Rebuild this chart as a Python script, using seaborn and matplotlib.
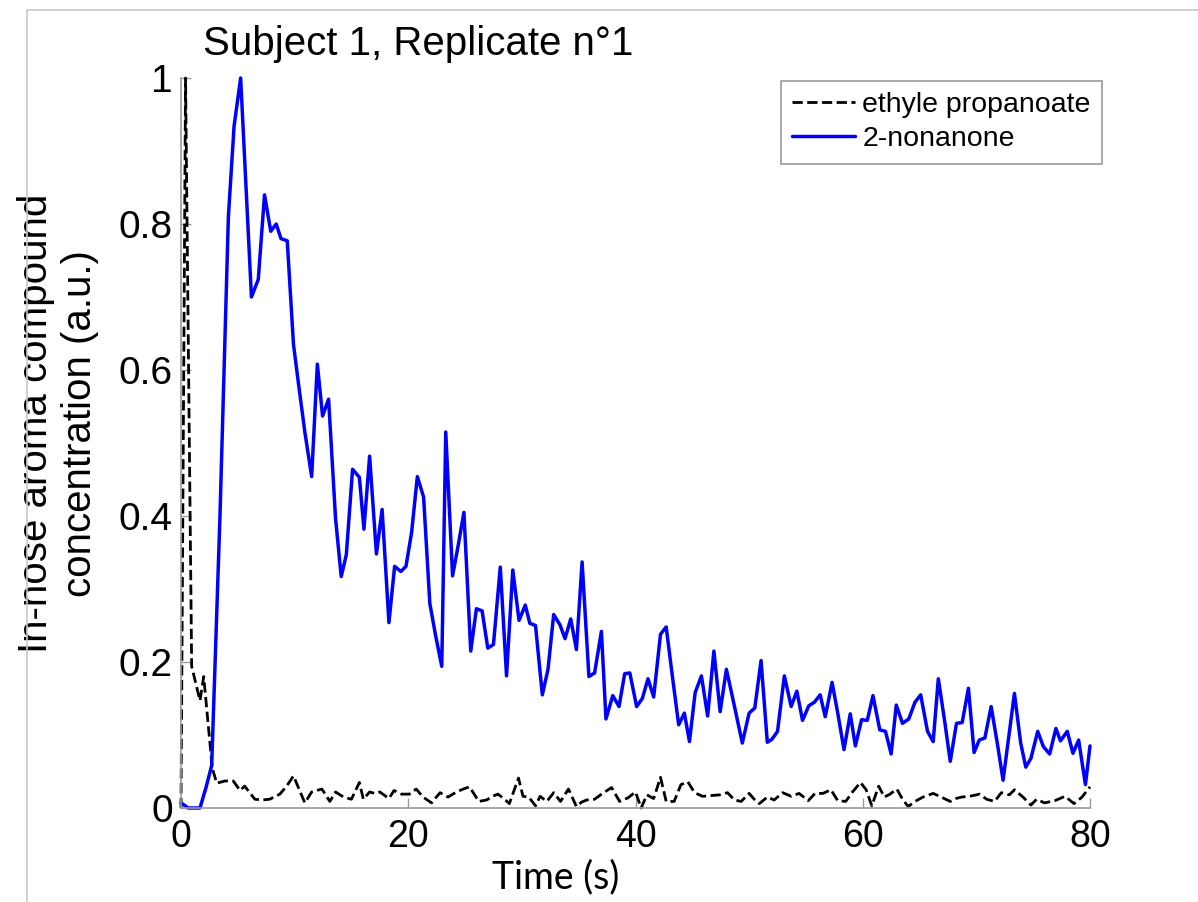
import matplotlib
matplotlib.use("Agg")
import matplotlib.pyplot as plt
from matplotlib.lines import Line2D
import seaborn as sns
import pandas as pd

# ---------------- data ----------------
blue_time = [0.0, 0.64, 1.67, 2.2, 2.7, 3.43, 4.17, 4.67, 5.25, 6.2, 6.8, 7.35, 7.9, 8.38, 8.8,
             9.35, 9.9, 10.35, 10.9, 11.5, 12.0, 12.46, 12.99, 13.6, 14.1, 14.55, 15.1, 15.7,
             16.1, 16.6, 17.2, 17.7, 18.3, 18.8, 19.35, 19.8, 20.3, 20.8, 21.35, 21.9, 22.4,
             22.95, 23.3, 23.9, 24.4, 24.9, 25.5, 26.0, 26.5, 27.0, 27.5, 28.1, 28.65, 29.2,
             29.75, 30.3, 30.7, 31.2, 31.8, 32.3, 32.8, 33.35, 33.8, 34.3, 34.8, 35.3, 35.9,
             36.4, 37.0, 37.4, 38.0, 38.55, 39.05, 39.5, 40.1, 40.6, 41.1, 41.6, 42.2, 42.7,
             43.25, 43.8, 44.3, 44.75, 45.25, 45.8, 46.35, 46.9, 47.45, 48.0, 48.7, 49.4, 50.0,
             50.5, 51.05, 51.6, 52.0, 52.5, 53.1, 53.7, 54.2, 54.7, 55.25, 55.75, 56.25, 56.7,
             57.3, 57.8, 58.35, 58.9, 59.35, 59.9, 60.4, 60.9, 61.5, 62.0, 62.5, 62.95, 63.5,
             64.05, 64.6, 65.1, 65.7, 66.2, 66.65, 67.2, 67.7, 68.25, 68.75, 69.3, 69.8, 70.25,
             70.75, 71.3, 71.85, 72.35, 72.85, 73.35, 73.9, 74.35, 74.8, 75.4, 75.9, 76.45,
             77.0, 77.4, 78.0, 78.5, 79.0, 79.6, 80.0]
blue_value = [0.007, 0.0, 0.0, 0.028, 0.058, 0.40, 0.81, 0.934, 1.0, 0.70, 0.724, 0.84, 0.79, 0.80,
              0.78, 0.777, 0.635, 0.58, 0.515, 0.454, 0.608, 0.537, 0.56, 0.397, 0.317, 0.347,
              0.464, 0.453, 0.382, 0.482, 0.348, 0.409, 0.254, 0.331, 0.324, 0.331, 0.378, 0.454,
              0.426, 0.28, 0.237, 0.194, 0.515, 0.318, 0.36, 0.405, 0.215, 0.273, 0.27, 0.219,
              0.224, 0.33, 0.181, 0.326, 0.257, 0.278, 0.253, 0.25, 0.155, 0.19, 0.265, 0.251,
              0.232, 0.259, 0.217, 0.337, 0.18, 0.185, 0.242, 0.122, 0.154, 0.139, 0.184, 0.185,
              0.139, 0.150, 0.177, 0.152, 0.238, 0.248, 0.18, 0.114, 0.130, 0.091, 0.158, 0.181,
              0.126, 0.215, 0.132, 0.19, 0.14, 0.089, 0.130, 0.137, 0.202, 0.090, 0.094, 0.105,
              0.181, 0.139, 0.160, 0.120, 0.140, 0.145, 0.155, 0.125, 0.172, 0.13, 0.080, 0.129,
              0.085, 0.121, 0.12, 0.154, 0.107, 0.105, 0.074, 0.141, 0.116, 0.122, 0.145, 0.155,
              0.105, 0.091, 0.177, 0.12, 0.064, 0.116, 0.117, 0.164, 0.076, 0.093, 0.096, 0.139,
              0.088, 0.038, 0.097, 0.157, 0.089, 0.056, 0.068, 0.105, 0.084, 0.074, 0.109, 0.092,
              0.105, 0.075, 0.093, 0.032, 0.085]

black_time = [0.0, 0.4, 0.94, 1.67, 2.0, 2.75, 3.14, 3.87, 4.6, 5.2, 5.6, 6.5, 7.15, 7.8, 8.7,
              9.3, 9.9, 10.9, 11.5, 11.95, 12.4, 13.1, 13.6, 14.3, 15.0, 15.7, 16.05, 16.6,
              17.05, 17.5, 18.3, 18.75, 19.4, 20.1, 20.7, 21.3, 22.05, 22.8, 23.5, 24.25, 24.85,
              25.4, 26.2, 26.9, 27.4, 27.9, 28.4, 28.9, 29.7, 30.1, 30.6, 31.2, 31.6, 32.2, 32.8,
              33.4, 34.1, 34.8, 35.25, 35.7, 36.4, 37.1, 37.9, 38.6, 39.35, 40.0, 40.5, 41.0,
              41.6, 42.2, 42.7, 43.4, 44.0, 44.6, 45.2, 45.9, 46.65, 47.4, 48.1, 48.7, 49.3,
              50.0, 50.45, 50.9, 51.6, 52.2, 52.95, 53.7, 54.4, 55.2, 55.8, 56.5, 57.2, 57.8,
              58.5, 59.1, 59.8, 60.3, 60.8, 61.4, 61.9, 62.4, 63.0, 63.5, 64.0, 64.6, 65.3,
              66.2, 66.9, 67.7, 68.2, 68.7, 69.4, 70.3, 70.9, 71.6, 72.2, 72.9, 73.35, 74.1,
              74.8, 75.3, 76.0, 76.9, 77.8, 78.6, 79.3, 80.0]
black_value = [0.0, 1.0, 0.194, 0.147, 0.18, 0.055, 0.034, 0.037, 0.037, 0.024, 0.030, 0.012,
               0.011, 0.012, 0.019, 0.03, 0.044, 0.007, 0.022, 0.024, 0.026, 0.009, 0.022, 0.015,
               0.012, 0.035, 0.012, 0.022, 0.02, 0.022, 0.013, 0.024, 0.019, 0.019, 0.026, 0.015,
               0.007, 0.021, 0.015, 0.022, 0.026, 0.029, 0.009, 0.011, 0.016, 0.019, 0.013, 0.006,
               0.041, 0.016, 0.015, 0.003, 0.016, 0.009, 0.021, 0.009, 0.026, 0.002, 0.008, 0.011,
               0.012, 0.02, 0.028, 0.009, 0.014, 0.022, 0.0, 0.018, 0.013, 0.042, 0.009, 0.009,
               0.032, 0.036, 0.021, 0.016, 0.017, 0.018, 0.021, 0.011, 0.009, 0.02, 0.012, 0.006,
               0.015, 0.011, 0.021, 0.016, 0.02, 0.01, 0.02, 0.02, 0.025, 0.01, 0.009, 0.022,
               0.035, 0.025, 0.003, 0.03, 0.015, 0.019, 0.026, 0.012, 0.002, 0.009, 0.015, 0.02,
               0.015, 0.009, 0.013, 0.015, 0.016, 0.019, 0.012, 0.009, 0.021, 0.018, 0.025, 0.015,
               0.004, 0.012, 0.007, 0.01, 0.016, 0.006, 0.015, 0.029]

series_names = ["ethyle propanoate", "2-nonanone"]
x_ticks = [0, 20, 40, 60, 80]
y_ticks = [0, 0.2, 0.4, 0.6, 0.8, 1]
y_tick_labels = ["0", "0.2", "0.4", "0.6", "0.8", "1"]
title_text = "Subject 1, Replicate n°1"
x_label = "Time (s)"
y_label = "In-nose aroma compound\nconcentration (a.u.)"

# ---------------- styling ----------------
sns.set_style("white")
plt.rcParams["font.family"] = ["Liberation Sans", "DejaVu Sans"]
plt.rcParams["text.color"] = "black"
plt.rcParams["axes.labelcolor"] = "black"
plt.rcParams["xtick.color"] = "black"
plt.rcParams["ytick.color"] = "black"

W, H = 1198, 902
fig = plt.figure(figsize=(W / 100, H / 100), dpi=100)
ax = fig.add_axes([181 / W, 1 - 808 / H, (1090 - 181) / W, (808 - 78) / H])

df_black = pd.DataFrame({"t": black_time, "v": black_value})
df_blue = pd.DataFrame({"t": blue_time, "v": blue_value})

sns.lineplot(data=df_black, x="t", y="v", ax=ax, color="black", linestyle="--",
             linewidth=2.0, sort=False, label=series_names[0], clip_on=False)
sns.lineplot(data=df_blue, x="t", y="v", ax=ax, color="#0000ff", linestyle="-",
             linewidth=2.5, sort=False, label=series_names[1], clip_on=False)

ax.set_xlim(0, 80)
ax.set_ylim(0, 1)
ax.set_xticks(x_ticks)
ax.set_yticks(y_ticks)
ax.set_yticklabels(y_tick_labels)

spine_col = "#9a9a9a"
for s in ["top", "right"]:
    ax.spines[s].set_visible(False)
for s in ["left", "bottom"]:
    ax.spines[s].set_color(spine_col)
    ax.spines[s].set_linewidth(1.2)

ax.tick_params(axis="both", which="major", bottom=True, left=True, direction="in",
               length=7, width=1.0, color=spine_col, labelcolor="black")
ax.tick_params(axis="x", labelsize=27, pad=8)
ax.tick_params(axis="y", labelsize=28, pad=6)

ax.set_xlabel(x_label, fontsize=27, family=["Lato", "DejaVu Sans"], color="black")
ax.xaxis.set_label_coords((556 - 181) / 909, -0.07)
ax.set_ylabel(y_label, fontsize=29, linespacing=1.2, color="black")
ax.yaxis.set_label_coords(-0.090, 0.527)

fig.text(203 / W, 1 - 55 / H, title_text, fontsize=29, ha="left", va="baseline",
         color="black")

leg = ax.legend(loc="upper right", bbox_to_anchor=(1102 / W, 1 - 80.5 / H),
                bbox_transform=fig.transFigure, borderaxespad=0, frameon=True,
                fancybox=False, edgecolor="#9a9a9a", framealpha=1, fontsize=20.5,
                handlelength=2.2, handletextpad=0.25, labelspacing=0.3, borderpad=0.4)
leg.get_frame().set_linewidth(1.2)
for txt in leg.get_texts():
    txt.set_color("black")

# thin page frame seen at the left/top of the reference picture
fig.add_artist(Line2D([27 / W, 27 / W], [0, 1 - 10 / H], transform=fig.transFigure,
                      color="#c8c8c8", linewidth=1.2))
fig.add_artist(Line2D([27 / W, 1], [1 - 10 / H, 1 - 10 / H], transform=fig.transFigure,
                      color="#c8c8c8", linewidth=1.2))

fig.savefig("out.png", dpi=100)
